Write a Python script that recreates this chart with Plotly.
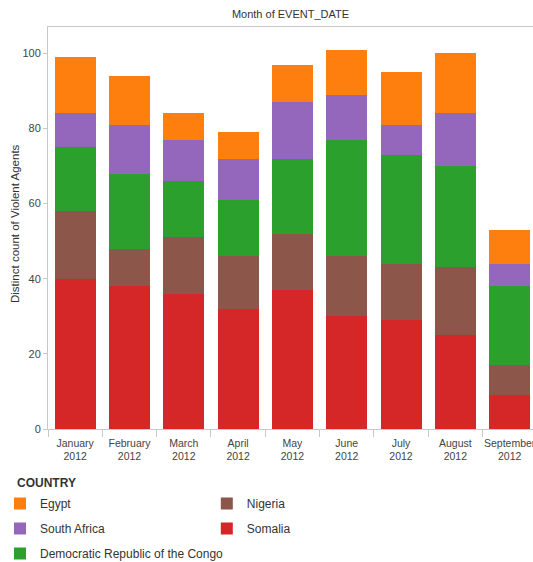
import plotly.graph_objects as go

months = ["January<br>2012", "February<br>2012", "March<br>2012", "April<br>2012", "May<br>2012",
          "June<br>2012", "July<br>2012", "August<br>2012", "September<br>2012"]

somalia = [40, 38, 36, 32, 37, 30, 29, 25, 9]
nigeria = [18, 10, 15, 14, 15, 16, 15, 18, 8]
drc = [17, 20, 15, 15, 20, 31, 29, 27, 21]
south_africa = [9, 13, 11, 11, 15, 12, 8, 14, 6]
egypt = [15, 13, 7, 7, 10, 12, 14, 16, 9]

series = [
    ("Somalia", somalia, "#D62728", "legend2", 2),
    ("Nigeria", nigeria, "#8C564B", "legend2", 1),
    ("Democratic Republic of the Congo", drc, "#2CA02C", "legend", 3),
    ("South Africa", south_africa, "#9467BD", "legend", 2),
    ("Egypt", egypt, "#FF7F0E", "legend", 1),
]

fig = go.Figure()
for name, vals, color, lg, rank in series:
    fig.add_trace(go.Bar(
        x=months, y=vals, name=name, marker=dict(color=color, line=dict(width=0)),
        legend=lg, legendgroup=name, legendrank=rank,
    ))

W, H = 533, 562
font = "Liberation Sans, Arial, sans-serif"
fig.update_layout(
    width=W, height=H,
    barmode="stack", bargap=0.245,
    plot_bgcolor="white", paper_bgcolor="white",
    margin=dict(l=48, r=0, t=27, b=133, autoexpand=False),
    font=dict(family=font, size=11, color="#444"),
    title=dict(text="Month of EVENT_DATE", x=0.5, xref="paper", y=1 - 14 / H, yanchor="middle",
               font=dict(size=11, color="#333")),
    xaxis=dict(
        range=[-0.5, 8.43], showline=True, linecolor="#c8c8c8", linewidth=1, mirror=True,
        ticks="outside", tickson="boundaries", ticklen=7, tickcolor="#c8c8c8", tickangle=0,
        ticklabelstandoff=4,
        tickfont=dict(size=10.5, color="#444"), showgrid=False, fixedrange=True,
    ),
    yaxis=dict(
        range=[0, 107], showline=True, linecolor="#c8c8c8", linewidth=1,
        ticks="outside", ticklen=4, tickcolor="#c8c8c8", tickvals=[0, 20, 40, 60, 80, 100],
        tickfont=dict(size=11, color="#444"), showgrid=False, zeroline=False, fixedrange=True,
    ),
    annotations=[
        dict(text="Distinct count of Violent Agents", textangle=-90, xref="paper", yref="paper",
             x=(15 - 48) / (W - 48), y=(H - 133 - 224) / (H - 133 - 27), xanchor="center", yanchor="middle",
             showarrow=False, font=dict(size=11.5, color="#333")),
        dict(text="<b>COUNTRY</b>", xref="paper", yref="paper",
             x=(15 - 48) / (W - 48), y=-(483 - (H - 133)) / (H - 133 - 27), xanchor="left", yanchor="middle",
             showarrow=False, font=dict(size=12, color="#333")),
    ],
    legend=dict(
        xref="container", yref="container", x=0.0, y=1 - 489 / H, xanchor="left", yanchor="top",
        traceorder="grouped", tracegroupgap=6,
        font=dict(size=12, color="#333"), bgcolor="rgba(0,0,0,0)",
    ),
    legend2=dict(
        xref="container", yref="container", x=0.388, y=1 - 489 / H, xanchor="left", yanchor="top",
        traceorder="grouped", tracegroupgap=6,
        font=dict(size=12, color="#333"), bgcolor="rgba(0,0,0,0)",
    ),
)

fig.write_html("out.html", config={"displayModeBar": False},
               post_script="document.body.style.margin='0';")
